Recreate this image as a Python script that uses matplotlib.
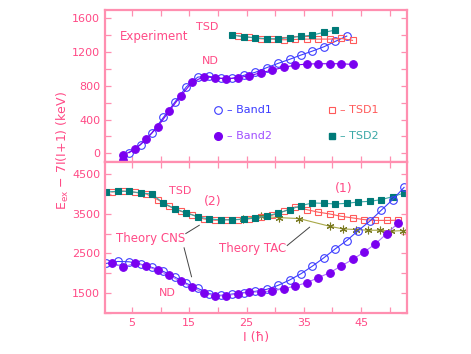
import matplotlib
matplotlib.use("Agg")
import matplotlib.pyplot as plt
from matplotlib.ticker import MultipleLocator

# ---- experiment (top panel) ----
band1_top_I = [4.5 + 2 * k for k in range(20)]
band1_top_E = [7, 102, 244, 427, 608, 789, 904, 912, 888, 888,
               924, 960, 1015, 1066, 1114, 1165, 1212, 1263, 1327, 1390]

band2_top_I = [3.5, 3.5] + [5.5 + 2 * k for k in range(20)]
band2_top_E = [-79, -20, 47, 169, 315, 501, 679, 841, 908, 896, 884,
               896, 920, 955, 987, 1019, 1046, 1058, 1062, 1062, 1062, 1054]

tsd1_top_I = [23.5 + 2 * k for k in range(11)]
tsd1_top_E = [1394, 1376, 1358, 1354, 1346, 1350, 1354, 1354, 1354, 1362, 1339]

tsd2_top_I = [22.5 + 2 * k for k in range(10)]
tsd2_top_E = [1402, 1382, 1370, 1358, 1358, 1370, 1386, 1402, 1434, 1461]

# ---- theory (bottom panel) ----
band1_bot_I = [0.5 + 2 * k for k in range(27)]
band1_bot_E = [2250, 2300, 2292, 2233, 2150, 2050, 1908, 1750, 1625, 1492,
               1450, 1483, 1520, 1550, 1600, 1700, 1833, 1992, 2183, 2392,
               2617, 2825, 3075, 3308, 3583, 3850, 4158]

band2_bot_I = [1.5 + 2 * k for k in range(26)]
band2_bot_E = [2258, 2158, 2258, 2183, 2075, 1950, 1800, 1650, 1517, 1433,
               1442, 1492, 1525, 1540, 1558, 1617, 1683, 1767, 1892, 2017,
               2183, 2350, 2533, 2742, 3000, 3267]

tsd1_bot_I = [1.5 + 2 * k for k in range(26)]
tsd1_bot_E = [4042, 4067, 4033, 3992, 3850, 3683, 3558, 3475, 3367, 3333,
              3350, 3350, 3370, 3417, 3460, 3558, 3670, 3600, 3537, 3492,
              3433, 3392, 3350, 3330, 3330, 3333]

tsd2_bot_I = [0.5 + 2 * k for k in range(27)]
tsd2_bot_E = [4040, 4060, 4058, 4020, 3990, 3760, 3625, 3517, 3417, 3367,
              3342, 3342, 3367, 3388, 3440, 3512, 3600, 3700, 3767, 3758,
              3742, 3758, 3792, 3808, 3850, 3925, 4017]

tac_I = [24.4, 27.5, 30.7, 34.2, 39.5, 41.8, 44.1, 46.2, 48.3, 50.2, 52.3]
tac_E = [3375, 3430, 3400, 3375, 3183, 3117, 3100, 3083, 3083, 3058, 3075]

PINK = "#ff4a86"
SPINE = "#ff8fb0"
BLUE = "#3c3cff"
PURPLE = "#7a00f0"
RED = "#ff5a5a"
TEAL = "#007a78"
TEAL_L = "#3aa8a6"
OLIVE = "#a8a848"

fig = plt.figure(figsize=(4.71, 3.54), dpi=100)
ax1 = fig.add_axes([0.223, 0.543, 0.641, 0.429])
ax2 = fig.add_axes([0.223, 0.115, 0.641, 0.428])


def style(ax):
    for s in ax.spines.values():
        s.set_color(SPINE)
        s.set_linewidth(1.6)
    ax.tick_params(which="both", direction="in", colors=SPINE, labelcolor=PINK,
                   labelsize=8, length=4, width=0.9,
                   top=True, right=True)
    ax.set_xlim(0.3, 53)
    ax.xaxis.set_major_locator(MultipleLocator(10))
    ax.xaxis.set_minor_locator(MultipleLocator(5))


def series(ax, x, y, color, marker, filled, ms, lc=None, clip=True):
    ax.plot(x, y, color=lc or color, lw=0.8, marker=marker, ms=ms,
            mec=color, mfc=color if filled else "none", mew=0.8, clip_on=clip)


# top panel
style(ax1)
ax1.set_ylim(-100, 1700)
ax1.set_xticks([5, 15, 25, 35, 45])
ax1.set_yticks([0, 400, 800, 1200, 1600])
ax1.yaxis.set_minor_locator(MultipleLocator(200))
ax1.tick_params(labelbottom=False)

series(ax1, band1_top_I, band1_top_E, BLUE, "o", False, 5.5)
series(ax1, band2_top_I, band2_top_E, PURPLE, "o", True, 5.5, clip=False)
series(ax1, tsd1_top_I, tsd1_top_E, RED, "s", False, 4.6)
series(ax1, tsd2_top_I, tsd2_top_E, TEAL, "s", True, 4.6, lc=TEAL_L)

ax1.text(2.9, 1390, "Experiment", color=PINK, fontsize=8.5, va="center")
ax1.text(18.2, 1500, "TSD", color=PINK, fontsize=8, ha="center", va="center")
ax1.text(18.6, 1094, "ND", color=PINK, fontsize=8, ha="center", va="center")

ax1.plot([20.1], [513], "o", ms=5.5, mec=BLUE, mfc="none", mew=0.8)
ax1.text(21.6, 513, "– Band1", color=BLUE, fontsize=8, va="center")
ax1.plot([20.1], [204], "o", ms=5.5, mec=PURPLE, mfc=PURPLE)
ax1.text(21.6, 204, "– Band2", color="#a050ff", fontsize=8, va="center")
ax1.plot([40.0], [513], "s", ms=4.6, mec=RED, mfc="none", mew=0.8)
ax1.text(41.3, 513, "– TSD1", color=RED, fontsize=8, va="center")
ax1.plot([40.0], [204], "s", ms=4.6, mec=TEAL, mfc=TEAL)
ax1.text(41.3, 204, "– TSD2", color=TEAL_L, fontsize=8, va="center")

# bottom panel
style(ax2)
ax2.set_ylim(1000, 4800)
ax2.set_xticks([5, 15, 25, 35, 45])
ax2.set_yticks([1500, 2500, 3500, 4500])
ax2.yaxis.set_minor_locator(MultipleLocator(500))

series(ax2, tac_I, tac_E, "#7a7a20", (6, 2, 0), False, 5.5, lc=OLIVE)
series(ax2, tsd1_bot_I, tsd1_bot_E, RED, "s", False, 4.6)
series(ax2, tsd2_bot_I, tsd2_bot_E, TEAL, "s", True, 4.6, lc=TEAL_L)
series(ax2, band1_bot_I, band1_bot_E, BLUE, "o", False, 5.5)
series(ax2, band2_bot_I, band2_bot_E, PURPLE, "o", True, 5.5, lc="#b070ff")

ax2.text(13.5, 4075, "TSD", color=PINK, fontsize=8, ha="center", va="center")
ax2.text(19.1, 3808, "(2)", color=PINK, fontsize=9, ha="center", va="center")
ax2.text(41.9, 4142, "(1)", color=PINK, fontsize=9, ha="center", va="center")
ax2.text(8.3, 2867, "Theory CNS", color=PINK, fontsize=8.5, ha="center", va="center")
ax2.text(26.0, 2633, "Theory TAC", color=PINK, fontsize=8.5, ha="center", va="center")
ax2.text(11.2, 1500, "ND", color=PINK, fontsize=8, ha="center", va="center")

ax2.plot([14.4, 16.75], [3000, 3208], color="#444444", lw=0.7)
ax2.plot([14.1, 15.4], [2642, 1917], color="#444444", lw=0.7)
ax2.plot([32.1, 36.0], [2700, 3158], color="#444444", lw=0.7)

ax2.set_xlabel("I (ħ)", color=PINK, fontsize=9, labelpad=2)
fig.text(0.133, 0.575, r"E$_{\rm ex}$ $-$ 7I(I+1) (keV)", color=PINK, fontsize=9,
         rotation=90, ha="center", va="center")

fig.savefig("out.png", dpi=100)
